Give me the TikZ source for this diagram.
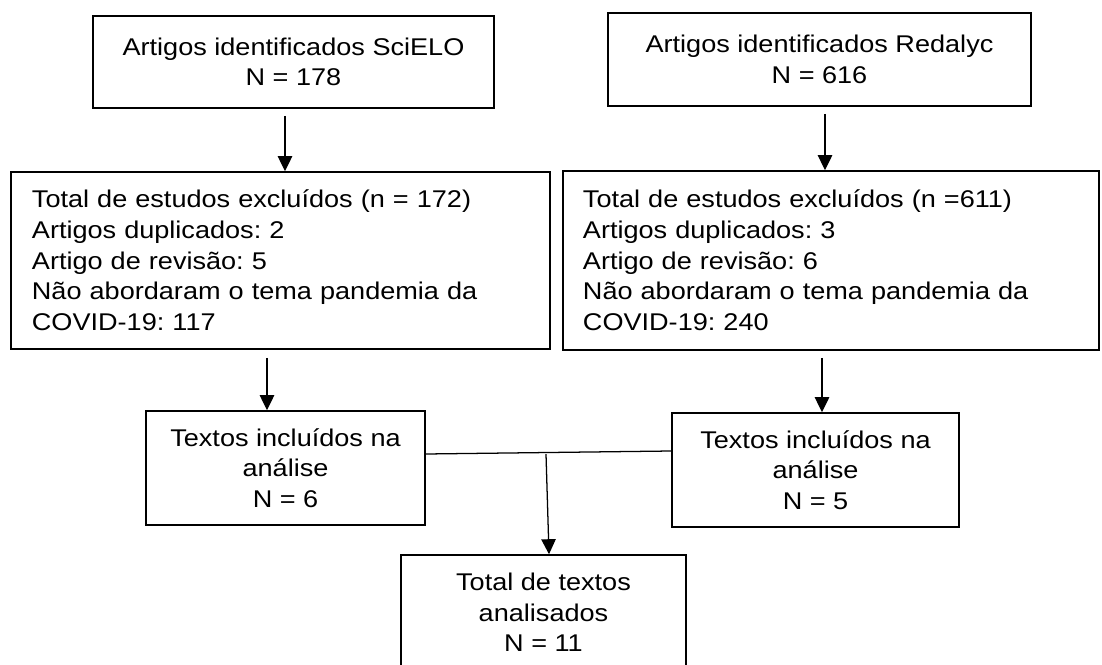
\documentclass[tikz,border=0pt]{standalone}
\usepackage{fontspec}
\setmainfont{Liberation Sans}[FakeStretch=1.12]
\usetikzlibrary{arrows.meta}
\frenchspacing
\tikzset{
	caixa/.style={draw, line width=1.1pt, inner sep=0pt, align=center},
	lista/.style={caixa, align=left, inner xsep=0.525cm},
	seta/.style={line width=0.9pt, -{Triangle[length=0.375cm, width=0.36cm]}}
	}

\begin{document}
\begin{tikzpicture}[x=0.025cm, y=-0.025cm, font=\fontsize{17.2pt}{21.8pt}\selectfont]

	\clip (0,0) rectangle (1102,664);

	% bases de dados
	\node[caixa, minimum width=10.025cm, minimum height=2.3cm] (scielo) at (293.5,62) {Artigos identificados SciELO\\N = 178};
	\node[caixa, minimum width=10.575cm, minimum height=2.325cm] (redalyc) at (819.5,59.5) {Artigos identificados Redalyc\\N = 616};

	% excluidos
	\node[lista, text width=12.425cm, minimum height=4.425cm] (excl1) at (280.5,260.5) {Total de estudos excluídos (n = 172)\\Artigos duplicados: 2\\Artigo de revisão: 5\\Não abordaram o tema pandemia da\\COVID-19: 117};
	\node[lista, inner xsep=0.5cm, text width=12.4cm, minimum height=4.475cm] (excl2) at (831,260.5) {Total de estudos excluídos (n =611)\\Artigos duplicados: 3\\Artigo de revisão: 6\\Não abordaram o tema pandemia da\\COVID-19: 240};

	% incluidos
	\node[caixa, minimum width=6.975cm, minimum height=2.85cm] (incl1) at (285.5,468) {Textos incluídos na\\análise\\N = 6};
	\node[caixa, minimum width=7.175cm, minimum height=2.85cm] (incl2) at (815.5,470) {Textos incluídos na\\análise\\N = 5};

	% total
	\node[caixa, minimum width=7.125cm, minimum height=2.875cm] (total) at (543.5,612.5) {Total de textos\\analisados\\N = 11};

	% setas
	\coordinate (s1) at ([xshift=-0.2125cm, yshift=-0.175cm]scielo.south);
	\coordinate (s2) at ([xshift=0.1375cm, yshift=-0.175cm]redalyc.south);
	\coordinate (s3) at ([xshift=-0.3375cm, yshift=-0.2cm]excl1.south);
	\coordinate (s4) at ([xshift=-0.225cm, yshift=-0.175cm]excl2.south);
	\draw[seta] (s1) -- (s1 |- excl1.north);
	\draw[seta] (s2) -- (s2 |- excl2.north);
	\draw[seta] (s3) -- (s3 |- incl1.north);
	\draw[seta] (s4) -- (s4 |- incl2.north);

	% juncao
	\draw[line width=0.9pt] ([yshift=0.35cm]incl1.east) -- ([yshift=0.475cm]incl2.west);
	\coordinate (jn) at ([xshift=0.0625cm, yshift=2.5cm]total.north);
	\draw[seta] (jn) -- ([xshift=0.1375cm]total.north);

\end{tikzpicture}
\end{document}
